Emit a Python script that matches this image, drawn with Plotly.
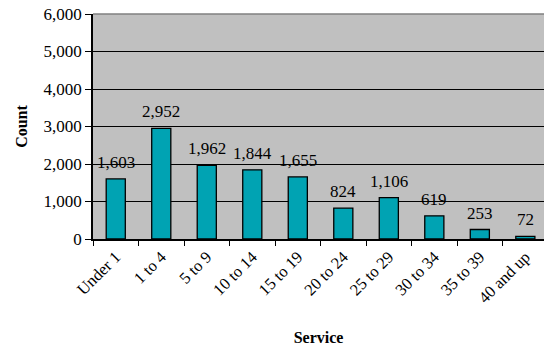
import plotly.graph_objects as go

# Staff counts by years of service
service_bands = ["Under 1", "1 to 4", "5 to 9", "10 to 14", "15 to 19",
                 "20 to 24", "25 to 29", "30 to 34", "35 to 39", "40 and up"]
counts = [1603, 2952, 1962, 1844, 1655, 824, 1106, 619, 253, 72]
y_ticks = [0, 1000, 2000, 3000, 4000, 5000, 6000]

FONT = "Liberation Serif, Times New Roman, serif"

fig = go.Figure()
fig.add_trace(go.Bar(
    x=service_bands,
    y=counts,
    width=0.42,
    marker=dict(color="#00A3B3", line=dict(color="black", width=1.3)),
    hoverinfo="x+y",
))

# Value labels above each bar
for band, c in zip(service_bands, counts):
    fig.add_annotation(
        x=band, y=c, text=f"{c:,}", showarrow=False,
        yanchor="bottom", yshift=5,
        font=dict(family=FONT, size=17, color="black"),
    )

# Grey top edge of the plotting area
fig.add_shape(type="line", xref="paper", yref="paper", x0=0, x1=1, y0=1, y1=1,
              line=dict(color="#808080", width=1.5), layer="above")

fig.update_layout(
    width=544, height=349,
    margin=dict(l=93, r=0, t=14, b=110),
    paper_bgcolor="white",
    plot_bgcolor="#C0C0C0",
    showlegend=False,
    font=dict(family=FONT, size=17, color="black"),
)
fig.update_xaxes(
    type="category",
    range=[-0.5, 9.41],
    tickangle=-45,
    tickson="boundaries",
    ticks="outside", ticklen=5, tickcolor="black", tickwidth=1.3,
    showline=True, linecolor="black", linewidth=1.5,
    showgrid=False,
    tickfont=dict(family=FONT, size=16.5),
    title=dict(text="<b>Service</b>", font=dict(family=FONT, size=16), standoff=26),
)
fig.update_yaxes(
    range=[0, 6000],
    tickvals=y_ticks,
    tickformat=",d",
    ticks="outside", ticklen=6, tickcolor="black", tickwidth=1.3,
    showline=True, linecolor="black", linewidth=1.5,
    showgrid=True, gridcolor="black", gridwidth=1.3,
    zeroline=False,
    tickfont=dict(family=FONT, size=17),
    title=dict(text="<b>Count</b>", font=dict(family=FONT, size=16), standoff=12),
)

fig.write_html("out.html")
